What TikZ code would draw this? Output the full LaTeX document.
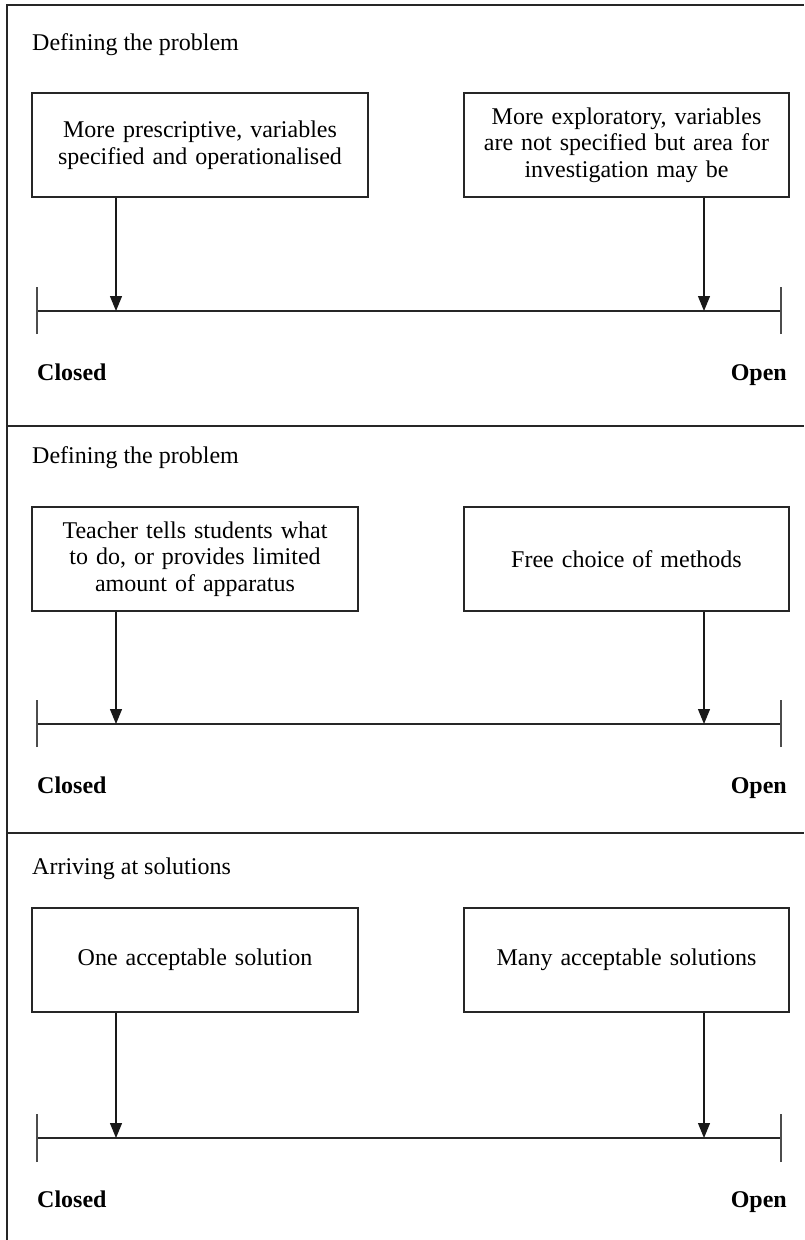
\documentclass[tikz,border=0pt]{standalone}
\usepackage{fontspec}
\setmainfont{Liberation Serif}
\usetikzlibrary{arrows.meta}
\begin{document}
\begin{tikzpicture}[x=1pt,y=-1pt,
  frame/.style={line width=1.3pt, draw=black!85},
  choicebox/.style={draw=black!85, line width=1.2pt, minimum height=104pt, align=center,
    inner sep=0pt, font=\fontsize{24}{26.5}\selectfont},
  title/.style={anchor=base west, inner sep=0pt, font=\fontsize{24}{28}\selectfont},
  endlabel/.style={inner sep=0pt, font=\fontsize{24}{28}\selectfont\bfseries},
  axisline/.style={line width=1.2pt, draw=black!85},
  tickline/.style={line width=1.2pt, draw=black!70},
  arr/.style={line width=1.2pt, draw=black!90, fill=black!90, -{Triangle[length=15pt,width=12pt]}}]
\useasboundingbox (0,0) rectangle (804,1240);
% frame
\draw[frame] (7,1240) -- (7,5) -- (804,5);
\draw[frame] (7,426) -- (804,426);
\draw[frame] (7,833) -- (804,833);

% ---------- Section 1 ----------
\node[title] (t1) at (32,50) {Defining the problem};
\node[choicebox, minimum width=336pt, text width=330pt] (b1l) at (200,145)
  {More prescriptive, variables\\specified and operationalised};
\node[choicebox, minimum width=325pt, text width=320pt] (b1r) at (626.5,145)
  {More exploratory, variables\\are not specified but area for\\investigation may be};
\coordinate (l1) at (37,311);
\coordinate (r1) at (781,311);
\coordinate (a1l) at (116,311);
\coordinate (a1r) at (704,311);
\draw[axisline] (l1) -- (r1);
\draw[tickline] ([yshift=-23pt]l1) -- ([yshift=24pt]l1);
\draw[tickline] ([yshift=-23pt]r1) -- ([yshift=24pt]r1);
\draw[arr] (b1l.south -| a1l) -- (a1l);
\draw[arr] (b1r.south -| a1r) -- (a1r);
\node[endlabel, anchor=base west] (c1) at (37,380) {Closed};
\node[endlabel, anchor=base east] (o1) at (787,380) {Open};

% ---------- Section 2 ----------
\node[title] (t2) at (32,463) {Defining the problem};
\node[choicebox, minimum width=326pt, text width=320pt] (b2l) at (195,559)
  {Teacher tells students what\\to do, or provides limited\\amount of apparatus};
\node[choicebox, minimum width=325pt, text width=320pt] (b2r) at (626.5,559)
  {Free choice of methods};
\coordinate (l2) at (37,724);
\coordinate (r2) at (781,724);
\coordinate (a2l) at (116,724);
\coordinate (a2r) at (704,724);
\draw[axisline] (l2) -- (r2);
\draw[tickline] ([yshift=-23pt]l2) -- ([yshift=24pt]l2);
\draw[tickline] ([yshift=-23pt]r2) -- ([yshift=24pt]r2);
\draw[arr] (b2l.south -| a2l) -- (a2l);
\draw[arr] (b2r.south -| a2r) -- (a2r);
\node[endlabel, anchor=base west] (c2) at (37,793) {Closed};
\node[endlabel, anchor=base east] (o2) at (787,793) {Open};

% ---------- Section 3 ----------
\node[title] (t3) at (32,874) {Arriving at solutions};
\node[choicebox, minimum width=326pt, text width=320pt] (b3l) at (195,960)
  {One acceptable solution};
\node[choicebox, minimum width=325pt, text width=320pt] (b3r) at (626.5,960)
  {Many acceptable solutions};
\coordinate (l3) at (37,1138);
\coordinate (r3) at (781,1138);
\coordinate (a3l) at (116,1138);
\coordinate (a3r) at (704,1138);
\draw[axisline] (l3) -- (r3);
\draw[tickline] ([yshift=-24pt]l3) -- ([yshift=24pt]l3);
\draw[tickline] ([yshift=-24pt]r3) -- ([yshift=24pt]r3);
\draw[arr] (b3l.south -| a3l) -- (a3l);
\draw[arr] (b3r.south -| a3r) -- (a3r);
\node[endlabel, anchor=base west] (c3) at (37,1207) {Closed};
\node[endlabel, anchor=base east] (o3) at (787,1207) {Open};
\end{tikzpicture}
\end{document}
